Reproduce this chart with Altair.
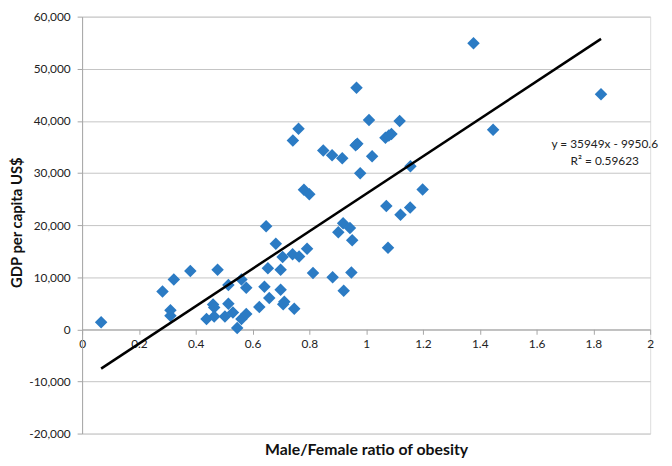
import altair as alt
import pandas as pd

# Male/Female ratio of obesity (x) vs GDP per capita US$ (y)
ratio = [0.067, 0.283, 0.311, 0.311, 0.323, 0.381, 0.438, 0.461, 0.465, 0.465,
         0.477, 0.503, 0.515, 0.515, 0.531, 0.546, 0.561, 0.561, 0.578, 0.578,
         0.624, 0.642, 0.648, 0.654, 0.659, 0.682, 0.699, 0.699, 0.706, 0.712,
         0.708, 0.741, 0.747, 0.764, 0.742, 0.762, 0.781, 0.792, 0.800, 0.813,
         0.849, 0.880, 0.882, 0.902, 0.916, 0.919, 0.921, 0.943, 0.951, 0.948,
         0.966, 0.963, 0.969, 0.979, 1.010, 1.021, 1.068, 1.080, 1.089, 1.071,
         1.077, 1.118, 1.121, 1.156, 1.155, 1.199, 1.378, 1.447, 1.827]
gdp = [1360, 7260, 3670, 2600, 9560, 11170, 1990, 4780, 4200, 2480,
       11420, 2480, 8500, 4900, 3220, 240, 9560, 1990, 8000, 2920,
       4280, 8190, 19800, 11730, 6020, 16440, 7580, 11420, 13900, 5270,
       4800, 14400, 3970, 13970, 36250, 38500, 26800, 15460, 25900, 10800,
       34300, 33400, 10000, 18650, 32830, 20350, 7390, 19450, 17080, 10900,
       46370, 35300, 35600, 29950, 40170, 33200, 36740, 37200, 37490, 23650,
       15640, 39980, 21970, 31280, 23400, 26820, 54880, 38300, 45120]

slope = 35949
intercept = -9950.6
equation_lines = ["y = 35949x - 9950.6", "R² = 0.59623"]

x_ticks = [0, 0.2, 0.4, 0.6, 0.8, 1, 1.2, 1.4, 1.6, 1.8, 2]
y_ticks = [-20000, -10000, 0, 10000, 20000, 30000, 40000, 50000, 60000]

pts = pd.DataFrame({"ratio": ratio, "gdp": gdp})
line_x = [min(ratio), max(ratio)]
trend = pd.DataFrame({"ratio": line_x, "gdp": [slope * v + intercept for v in line_x]})
eq_df1 = pd.DataFrame({"label": [equation_lines[0]]})
eq_df2 = pd.DataFrame({"label": [equation_lines[1]]})

FONT = "Lato"
TOP = 6
H = 422

x_scale = alt.Scale(domain=[0, 2], nice=False, zero=False)
y_scale = alt.Scale(domain=[-20000, 60000], nice=False, zero=False)

x_axis = alt.Axis(
    title="Male/Female ratio of obesity", values=x_ticks, grid=False,
    labelExpr="format(datum.value, '~g')",
    offset=-105.5, domainColor="#A6A6A6", tickColor="#A6A6A6", tickSize=5,
    labelFont=FONT, labelFontSize=12, labelColor="#222222", labelPadding=4,
    labelFlush=False, labelOverlap=False,
    titleFont=FONT, titleFontSize=16, titleFontWeight="bold", titleColor="#111111",
    titleY=121.5, titleBaseline="middle",
)
y_axis = alt.Axis(
    title="GDP per capita US$", values=y_ticks,
    labelExpr="replace(format(datum.value, ','), '\u2212', '-')",
    grid=True, gridColor="#C4C4C4", domainColor="#A6A6A6", tickColor="#A6A6A6",
    tickSize=5, labelFont=FONT, labelFontSize=12, labelColor="#222222",
    labelPadding=7, labelFlush=False, labelOverlap=False,
    titleFont=FONT, titleFontSize=15, titleFontWeight="bold", titleColor="#111111",
    titleX=-66, titleY=208, titleAngle=-90, titleAlign="center", titleBaseline="middle",
)

points = alt.Chart(pts).mark_point(
    shape="diamond", filled=True, size=160, color="#2B7BC4", opacity=1
).encode(
    x=alt.X("ratio:Q", scale=x_scale, axis=x_axis),
    y=alt.Y("gdp:Q", scale=y_scale, axis=y_axis),
)

line = alt.Chart(trend).mark_line(color="#000000", strokeWidth=2.5).encode(
    x=alt.X("ratio:Q", scale=x_scale),
    y=alt.Y("gdp:Q", scale=y_scale),
)

eq1 = alt.Chart(eq_df1).mark_text(
    font=FONT, fontSize=12, color="#222222", align="center", baseline="middle"
).encode(x=alt.value(529), y=alt.value(129), text="label:N")
eq2 = alt.Chart(eq_df2).mark_text(
    font=FONT, fontSize=12, color="#222222", align="center", baseline="middle"
).encode(x=alt.value(529), y=alt.value(146), text="label:N")

chart = alt.layer(points, line, eq1, eq2).properties(
    width=575, height=H,
    autosize=alt.AutoSizeParams(type="none"),
    padding={"left": 75, "top": TOP, "right": 14, "bottom": 22},
).configure_view(stroke=None).configure(background="white")

chart.save("out.html", embed_options={"renderer": "svg", "actions": False})
